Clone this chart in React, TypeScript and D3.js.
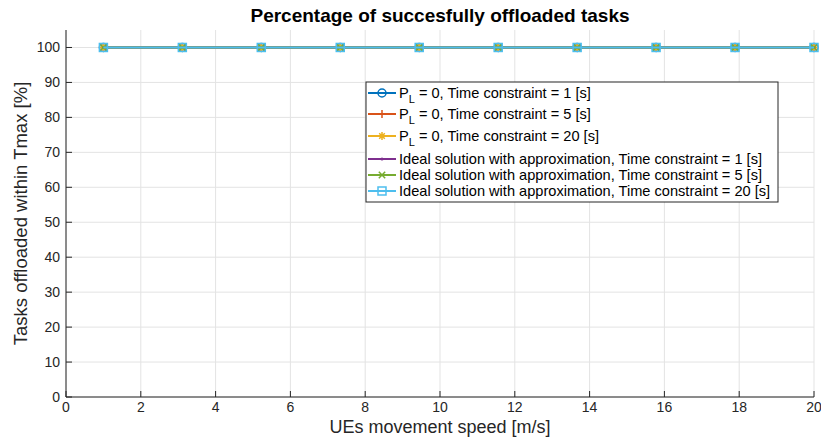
import React from "react";
import * as d3 from "d3";

// Mobility speeds (m/s) sampled in the simulation
const speeds = [1, 3.111, 5.222, 7.333, 9.444, 11.556, 13.667, 15.778, 17.889, 20];

// Percentage of tasks offloaded within Tmax, per scenario
const pl1 = [100, 100, 100, 100, 100, 100, 100, 100, 100, 100];
const pl5 = [100, 100, 100, 100, 100, 100, 100, 100, 100, 100];
const pl20 = [100, 100, 100, 100, 100, 100, 100, 100, 100, 100];
const ideal1 = [100, 100, 100, 100, 100, 100, 100, 100, 100, 100];
const ideal5 = [100, 100, 100, 100, 100, 100, 100, 100, 100, 100];
const ideal20 = [100, 100, 100, 100, 100, 100, 100, 100, 100, 100];

const xTicks = [0, 2, 4, 6, 8, 10, 12, 14, 16, 18, 20];
const yTicks = [0, 10, 20, 30, 40, 50, 60, 70, 80, 90, 100];

type Marker = "o" | "+" | "*" | "." | "x" | "s";
interface Series {
  name: string;
  sub: boolean;
  values: number[];
  color: string;
  marker: Marker;
}

const series: Series[] = [
  { name: "Time constraint = 1 [s]", sub: true, values: pl1, color: "#0072BD", marker: "o" },
  { name: "Time constraint = 5 [s]", sub: true, values: pl5, color: "#D95319", marker: "+" },
  { name: "Time constraint = 20 [s]", sub: true, values: pl20, color: "#EDB120", marker: "*" },
  { name: "Ideal solution with approximation, Time constraint = 1 [s]", sub: false, values: ideal1, color: "#7E2F8E", marker: "." },
  { name: "Ideal solution with approximation, Time constraint = 5 [s]", sub: false, values: ideal5, color: "#77AC30", marker: "x" },
  { name: "Ideal solution with approximation, Time constraint = 20 [s]", sub: false, values: ideal20, color: "#4DBEEE", marker: "s" },
];

const W = 821;
const H = 437;
const m = { left: 66, right: 7, top: 30, bottom: 40 };
const FONT = "'Liberation Sans', Arial, Helvetica, sans-serif";
const AX = "#262626";

function MarkerShape({ type, x, y, color }: { type: Marker; x: number; y: number; color: string }) {
  const r = 4;
  const sw = 1.5;
  switch (type) {
    case "o":
      return <circle cx={x} cy={y} r={r} fill="none" stroke={color} strokeWidth={sw} />;
    case "+":
      return (
        <path d={`M${x - r},${y}H${x + r}M${x},${y - r}V${y + r}`} stroke={color} strokeWidth={sw} />
      );
    case "*": {
      const d = r * 0.7;
      return (
        <path
          d={`M${x - r},${y}H${x + r}M${x},${y - r}V${y + r}M${x - d},${y - d}L${x + d},${y + d}M${x - d},${y + d}L${x + d},${y - d}`}
          stroke={color}
          strokeWidth={sw}
        />
      );
    }
    case ".":
      return <circle cx={x} cy={y} r={1.5} fill={color} />;
    case "x": {
      const d = r * 0.8;
      return (
        <path
          d={`M${x - d},${y - d}L${x + d},${y + d}M${x - d},${y + d}L${x + d},${y - d}`}
          stroke={color}
          strokeWidth={sw}
        />
      );
    }
    case "s":
      return <rect x={x - r} y={y - r} width={2 * r} height={2 * r} fill="none" stroke={color} strokeWidth={sw} />;
  }
}

export default function App() {
  const x = d3.scaleLinear().domain([0, 20]).range([m.left, W - m.right]);
  const y = d3.scaleLinear().domain([0, 105]).range([H - m.bottom, m.top]);

  const legendX = 366;
  const legendY = 82;
  const legendW = 412;
  const legendH = 120;
  const rowY = [93, 114, 136, 159, 175, 191];

  return (
    <svg width={W} height={H} style={{ position: "absolute", left: 0, top: 0, background: "#fff" }} fontFamily={FONT}>
      {/* grid */}
      {xTicks.map((t) => (
        <line key={"gx" + t} x1={x(t)} x2={x(t)} y1={y(105)} y2={y(0)} stroke="#e3e3e3" strokeWidth={1} />
      ))}
      {yTicks.map((t) => (
        <line key={"gy" + t} x1={x(0)} x2={x(20)} y1={y(t)} y2={y(t)} stroke="#e3e3e3" strokeWidth={1} />
      ))}

      {/* data */}
      {series.map((s) => {
        const gen = d3
          .line<number>()
          .x((_, i) => x(speeds[i]))
          .y((v) => y(v));
        return (
          <g key={s.name + s.color}>
            <path d={gen(s.values) || ""} fill="none" stroke={s.color} strokeWidth={2} />
            {s.values.map((v, i) => (
              <MarkerShape key={i} type={s.marker} x={x(speeds[i])} y={y(v)} color={s.color} />
            ))}
          </g>
        );
      })}

      {/* axes */}
      <line x1={x(0)} x2={x(20)} y1={y(0)} y2={y(0)} stroke={AX} strokeWidth={1} />
      <line x1={x(0)} x2={x(0)} y1={y(0)} y2={y(105)} stroke={AX} strokeWidth={1} />
      {xTicks.map((t) => (
        <g key={"xt" + t}>
          <line x1={x(t)} x2={x(t)} y1={y(0)} y2={y(0) - 6} stroke={AX} />
          <text x={x(t)} y={y(0) + 15} textAnchor="middle" fontSize={14} fill={AX}>
            {t}
          </text>
        </g>
      ))}
      {yTicks.map((t) => (
        <g key={"yt" + t}>
          <line x1={x(0)} x2={x(0) + 6} y1={y(t)} y2={y(t)} stroke={AX} />
          <text x={x(0) - 6} y={y(t) + 5} textAnchor="end" fontSize={14} fill={AX}>
            {t}
          </text>
        </g>
      ))}

      {/* labels */}
      <text x={(x(0) + x(20)) / 2} y={22} textAnchor="middle" fontSize={19} fontWeight="bold" fill="#000">
        Percentage of succesfully offloaded tasks
      </text>
      <text x={(x(0) + x(20)) / 2} y={433} textAnchor="middle" fontSize={18} fill={AX}>
        UEs movement speed [m/s]
      </text>
      <text
        transform={`translate(27,${(y(0) + y(105)) / 2}) rotate(-90)`}
        textAnchor="middle"
        fontSize={18.5}
        fill={AX}
      >
        Tasks offloaded within Tmax [%]
      </text>

      {/* legend */}
      <rect x={legendX} y={legendY} width={legendW} height={legendH} fill="#fff" stroke={AX} strokeWidth={1} />
      {series.map((s, i) => {
        const cy = rowY[i];
        return (
          <g key={"lg" + i}>
            <line x1={368} x2={396} y1={cy} y2={cy} stroke={s.color} strokeWidth={2} />
            <MarkerShape type={s.marker} x={382} y={cy} color={s.color} />
            {s.sub ? (
              <text x={399} y={cy + 5} fontSize={14.6} fill="#000">
                P<tspan fontSize={11} dy={5}>L</tspan>
                <tspan dy={-5}> = 0, {s.name}</tspan>
              </text>
            ) : (
              <text x={399} y={cy + 5} fontSize={14.6} fill="#000">
                {s.name}
              </text>
            )}
          </g>
        );
      })}
    </svg>
  );
}
